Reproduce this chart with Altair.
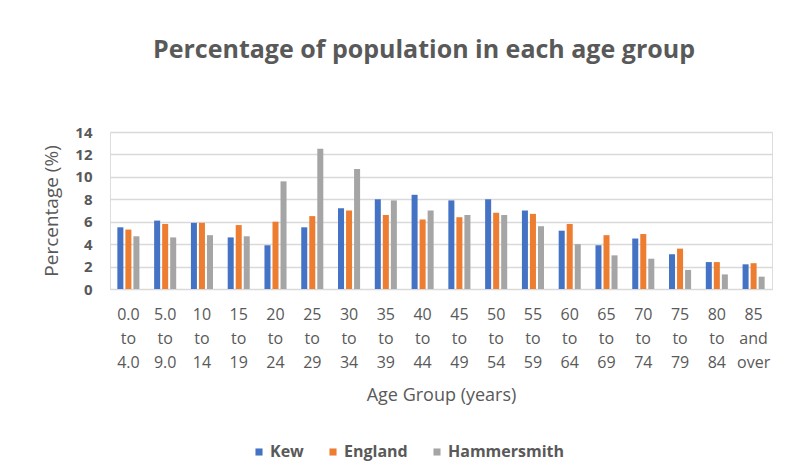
import altair as alt
import pandas as pd

age_groups = ["0.0 to 4.0", "5.0 to 9.0", "10 to 14", "15 to 19", "20 to 24", "25 to 29",
              "30 to 34", "35 to 39", "40 to 44", "45 to 49", "50 to 54", "55 to 59",
              "60 to 64", "65 to 69", "70 to 74", "75 to 79", "80 to 84", "85 and over"]
kew = [5.5, 6.1, 5.9, 4.6, 3.9, 5.5, 7.2, 8.0, 8.4, 7.9, 8.0, 7.0, 5.2, 3.9, 4.5, 3.1, 2.4, 2.2]
england = [5.3, 5.8, 5.9, 5.7, 6.0, 6.5, 7.0, 6.6, 6.2, 6.4, 6.8, 6.7, 5.8, 4.8, 4.9, 3.6, 2.4, 2.3]
hammersmith = [4.7, 4.6, 4.8, 4.7, 9.6, 12.5, 10.7, 7.9, 7.0, 6.6, 6.6, 5.6, 4.0, 3.0, 2.7, 1.7, 1.3, 1.1]

series_names = ["Kew", "England", "Hammersmith"]
series_colors = ["#4472C4", "#ED7D31", "#A5A5A5"]

rows = []
for name, vals in zip(series_names, [kew, england, hammersmith]):
    for g, v in zip(age_groups, vals):
        rows.append({"Age Group": g, "Area": name, "Percentage": v})
df = pd.DataFrame(rows)

FONT = "Open Sans"
TXT = "#595959"

chart = alt.Chart(df).mark_bar().encode(
    x=alt.X("Age Group:N", sort=age_groups,
            scale=alt.Scale(paddingInner=0.4, paddingOuter=0.2),
            axis=alt.Axis(title="Age Group (years)", labelAngle=0,
                          labelExpr="split(datum.label, ' ')",
                          labelLineHeight=24, labelFontSize=16, labelColor=TXT,
                          labelFont=FONT, labelPadding=17, labelBaseline="top",
                          ticks=False, domain=False,
                          titleFont=FONT, titleFontSize=18, titleFontWeight="normal",
                          titleColor=TXT, titlePadding=16)),
    xOffset=alt.XOffset("Area:N", sort=series_names,
                        scale=alt.Scale(paddingInner=0.25, paddingOuter=0)),
    y=alt.Y("Percentage:Q", scale=alt.Scale(domain=[0, 14]),
            axis=alt.Axis(title="Percentage (%)", values=[0, 2, 4, 6, 8, 10, 12, 14],
                          labelFontSize=15, labelFontWeight="bold", labelColor=TXT,
                          labelFont=FONT, labelPadding=18, ticks=False, domain=False,
                          grid=True, gridColor="#d9d9d9", gridWidth=1.5,
                          titleFont=FONT, titleFontSize=19, titleFontWeight="normal",
                          titleColor=TXT, titlePadding=13)),
    color=alt.Color("Area:N",
                    scale=alt.Scale(domain=series_names, range=series_colors),
                    legend=alt.Legend(title=None, orient="none", direction="horizontal",
                                      legendX=141, legendY=312,
                                      symbolType="square", symbolSize=50,
                                      symbolStrokeWidth=0,
                                      labelFont=FONT, labelFontSize=16,
                                      labelFontWeight="bold", labelColor=TXT,
                                      columnPadding=21, labelOffset=3)),
).properties(
    width=662, height=157,
    title=alt.TitleParams("Percentage of population in each age group",
                          font=FONT, fontSize=25, fontWeight="bold", color=TXT,
                          anchor="middle", dx=-17, offset=62),
    autosize=alt.AutoSizeParams(type="none"),
    padding={"left": 110, "top": 132, "right": 15, "bottom": 179},
).configure_view(stroke=None).configure(background="white")

chart.save("out.html", embed_options={"renderer": "svg", "actions": False})
